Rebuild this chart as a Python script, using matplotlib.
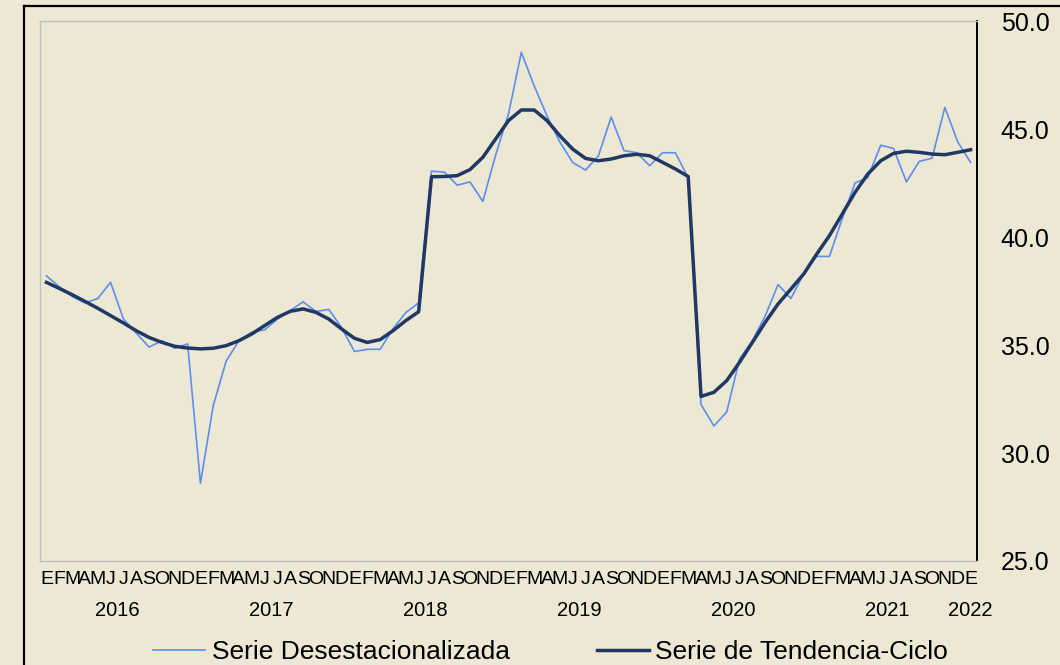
import matplotlib
matplotlib.use("Agg")
import matplotlib.pyplot as plt
import matplotlib.transforms as mtransforms
from matplotlib.lines import Line2D

plt.rcParams['font.family'] = ['Liberation Sans', 'DejaVu Sans']

month_letters = ["E", "F", "M", "A", "M", "J", "J", "A", "S", "O", "N", "D"]
years = ["2016", "2017", "2018", "2019", "2020", "2021", "2022"]
year_positions = [5.5, 17.5, 29.5, 41.5, 53.5, 65.5, 72]

serie_desestacionalizada = [
    38.2, 37.7, 37.25, 36.95, 37.15, 37.9, 36.2, 35.55, 34.9, 35.2, 34.85, 35.05,
    28.6, 32.2, 34.25, 35.2, 35.6, 35.7, 36.2, 36.6, 37.0, 36.55, 36.65, 35.8,
    34.7, 34.8, 34.8, 35.75, 36.5, 36.95, 43.05, 43.0, 42.4, 42.55, 41.65, 43.8,
    45.7, 48.55, 47.0, 45.6, 44.4, 43.45, 43.1, 43.75, 45.55, 44.0, 43.9, 43.3,
    43.9, 43.9, 42.75, 32.25, 31.25, 31.9, 34.35, 35.2, 36.35, 37.8, 37.15, 38.3,
    39.1, 39.1, 40.85, 42.5, 42.75, 44.25, 44.1, 42.55, 43.5, 43.65, 46.0, 44.4,
    43.45,
]
serie_tendencia_ciclo = [
    37.9, 37.62, 37.33, 37.02, 36.7, 36.36, 36.02, 35.66, 35.35, 35.12, 34.94, 34.86,
    34.82, 34.85, 34.97, 35.2, 35.51, 35.9, 36.28, 36.56, 36.67, 36.51, 36.2, 35.74,
    35.31, 35.12, 35.25, 35.66, 36.13, 36.54, 42.79, 42.8, 42.84, 43.12, 43.69, 44.54,
    45.39, 45.88, 45.88, 45.39, 44.69, 44.07, 43.64, 43.53, 43.61, 43.76, 43.83, 43.76,
    43.46, 43.15, 42.8, 32.62, 32.81, 33.35, 34.2, 35.12, 36.05, 36.9, 37.59, 38.29,
    39.2, 40.06, 41.06, 42.07, 42.92, 43.53, 43.87, 43.97, 43.92, 43.84, 43.81, 43.92,
    44.04,
]
y_ticks = [25, 30, 35, 40, 45, 50]

W, H = 1060, 665
fig = plt.figure(figsize=(W / 100, H / 100), dpi=100)
fig.patch.set_facecolor('#EDE8D4')

ax = fig.add_axes([40 / W, (H - 561) / H, 937 / W, 540 / H])
ax.set_facecolor('none')

n = len(serie_desestacionalizada)
x = list(range(n))
l1, = ax.plot(x, serie_desestacionalizada, color='#5B8EF0', lw=1.2,
              label='Serie Desestacionalizada', zorder=2)
l2, = ax.plot(x, serie_tendencia_ciclo, color='#1F3864', lw=2.5,
              label='Serie de Tendencia-Ciclo', zorder=3)

ax.set_xlim(-0.5, n - 0.5)
ax.set_ylim(25, 50)

# spines
for s in ['left', 'top', 'bottom']:
    ax.spines[s].set_color('#BFBFBF')
    ax.spines[s].set_linewidth(1.0)
ax.spines['right'].set_color('black')
ax.spines['right'].set_linewidth(1.4)

# y axis on right
ax.yaxis.tick_right()
ax.set_yticks(y_ticks)
ax.set_yticklabels([f"{v:.1f}" for v in y_ticks], fontsize=18)
ax.tick_params(axis='y', length=0, pad=17)

# x month letters
ax.set_xticks(x)
ax.set_xticklabels([month_letters[i % 12] for i in x], fontsize=14)
ax.tick_params(axis='x', length=0, pad=7)

# year labels
trans = mtransforms.blended_transform_factory(ax.transData, fig.transFigure)
for yr, pos in zip(years, year_positions):
    ax.text(pos, 54 / H, yr, transform=trans, ha='center', va='center',
            fontsize=14.5, color='black')

# legend
fig.legend(handles=[l1, l2], loc='center left',
           bbox_to_anchor=(153 / W, 13 / H), ncol=2, frameon=False,
           fontsize=19, handlelength=1.97, handletextpad=0.25,
           columnspacing=3.3, borderpad=0, borderaxespad=0)

# outer chart border (left and top)
fig.add_artist(Line2D([23.7 / W, 23.7 / W], [0, 1 - 6.3 / H],
                      transform=fig.transFigure, color='black', lw=1.6))
fig.add_artist(Line2D([23.7 / W, 1], [1 - 6.3 / H, 1 - 6.3 / H],
                      transform=fig.transFigure, color='black', lw=1.6))

fig.savefig('out.png', dpi=100, facecolor=fig.get_facecolor())
